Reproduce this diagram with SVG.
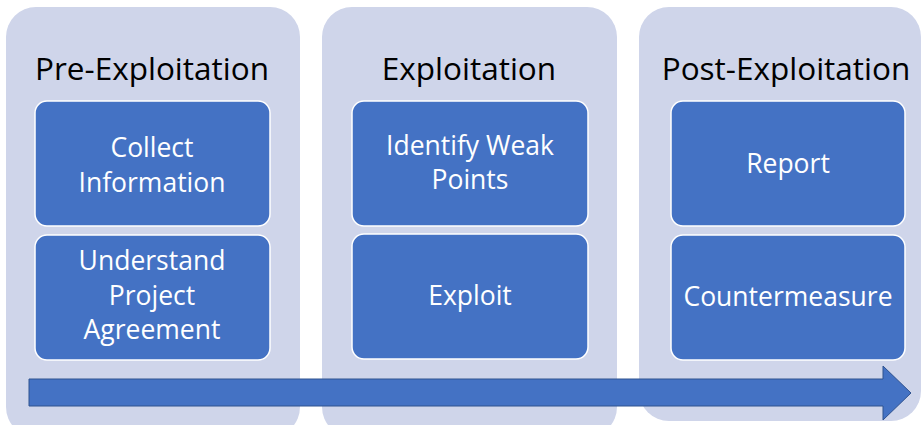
<svg xmlns="http://www.w3.org/2000/svg" width="921" height="425" viewBox="0 0 921 425">
<style>
.panel{fill:#CFD5EA}
.box{fill:#4472C4;stroke:#FFFFFF;stroke-width:1.5}
.title{font-family:"Open Sans","Liberation Sans",sans-serif;font-size:31.5px;fill:#000;text-anchor:middle}
.lbl{font-family:"Open Sans","Liberation Sans",sans-serif;font-size:26.5px;fill:#FFFFFF;text-anchor:middle}
.arrow{fill:#4472C4;stroke:#2F528F;stroke-width:1}
</style>
<rect width="921" height="425" fill="#FFFFFF"/>
<g id="panel-pre">
<rect class="panel" x="6" y="7" width="294" height="430" rx="30"/>
<text class="title" x="152" y="80">Pre-Exploitation</text>
</g>
<g id="panel-exp">
<rect class="panel" x="322" y="7" width="295" height="430" rx="30"/>
<text class="title" x="469" y="80">Exploitation</text>
</g>
<g id="panel-post">
<rect class="panel" x="639" y="7" width="282" height="414" rx="30"/>
<text class="title" x="786" y="80">Post-Exploitation</text>
</g>
<g id="collect">
<rect class="box" x="35" y="101" width="235" height="125" rx="12"/>
<text class="lbl" x="152" y="157">Collect</text>
<text class="lbl" x="152" y="192">Information</text>
</g>
<g id="understand">
<rect class="box" x="35" y="235" width="235" height="125" rx="12"/>
<text class="lbl" x="152" y="270">Understand</text>
<text class="lbl" x="152" y="305">Project</text>
<text class="lbl" x="152" y="339">Agreement</text>
</g>
<g id="identify">
<rect class="box" x="352" y="101" width="236" height="125" rx="12"/>
<text class="lbl" x="470" y="155">Identify Weak</text>
<text class="lbl" x="470" y="189">Points</text>
</g>
<g id="exploit">
<rect class="box" x="352" y="234" width="236" height="125" rx="12"/>
<text class="lbl" x="470" y="305">Exploit</text>
</g>
<g id="report">
<rect class="box" x="671" y="101" width="234" height="125" rx="12"/>
<text class="lbl" x="788" y="173">Report</text>
</g>
<g id="countermeasure">
<rect class="box" x="671" y="235" width="234" height="125" rx="12"/>
<text class="lbl" x="788" y="306">Countermeasure</text>
</g>
<g id="connectors">
<path class="arrow" d="M29 379 H883 V366 L911 393 L883 420 V406 H29 Z"/>
</g>
</svg>
